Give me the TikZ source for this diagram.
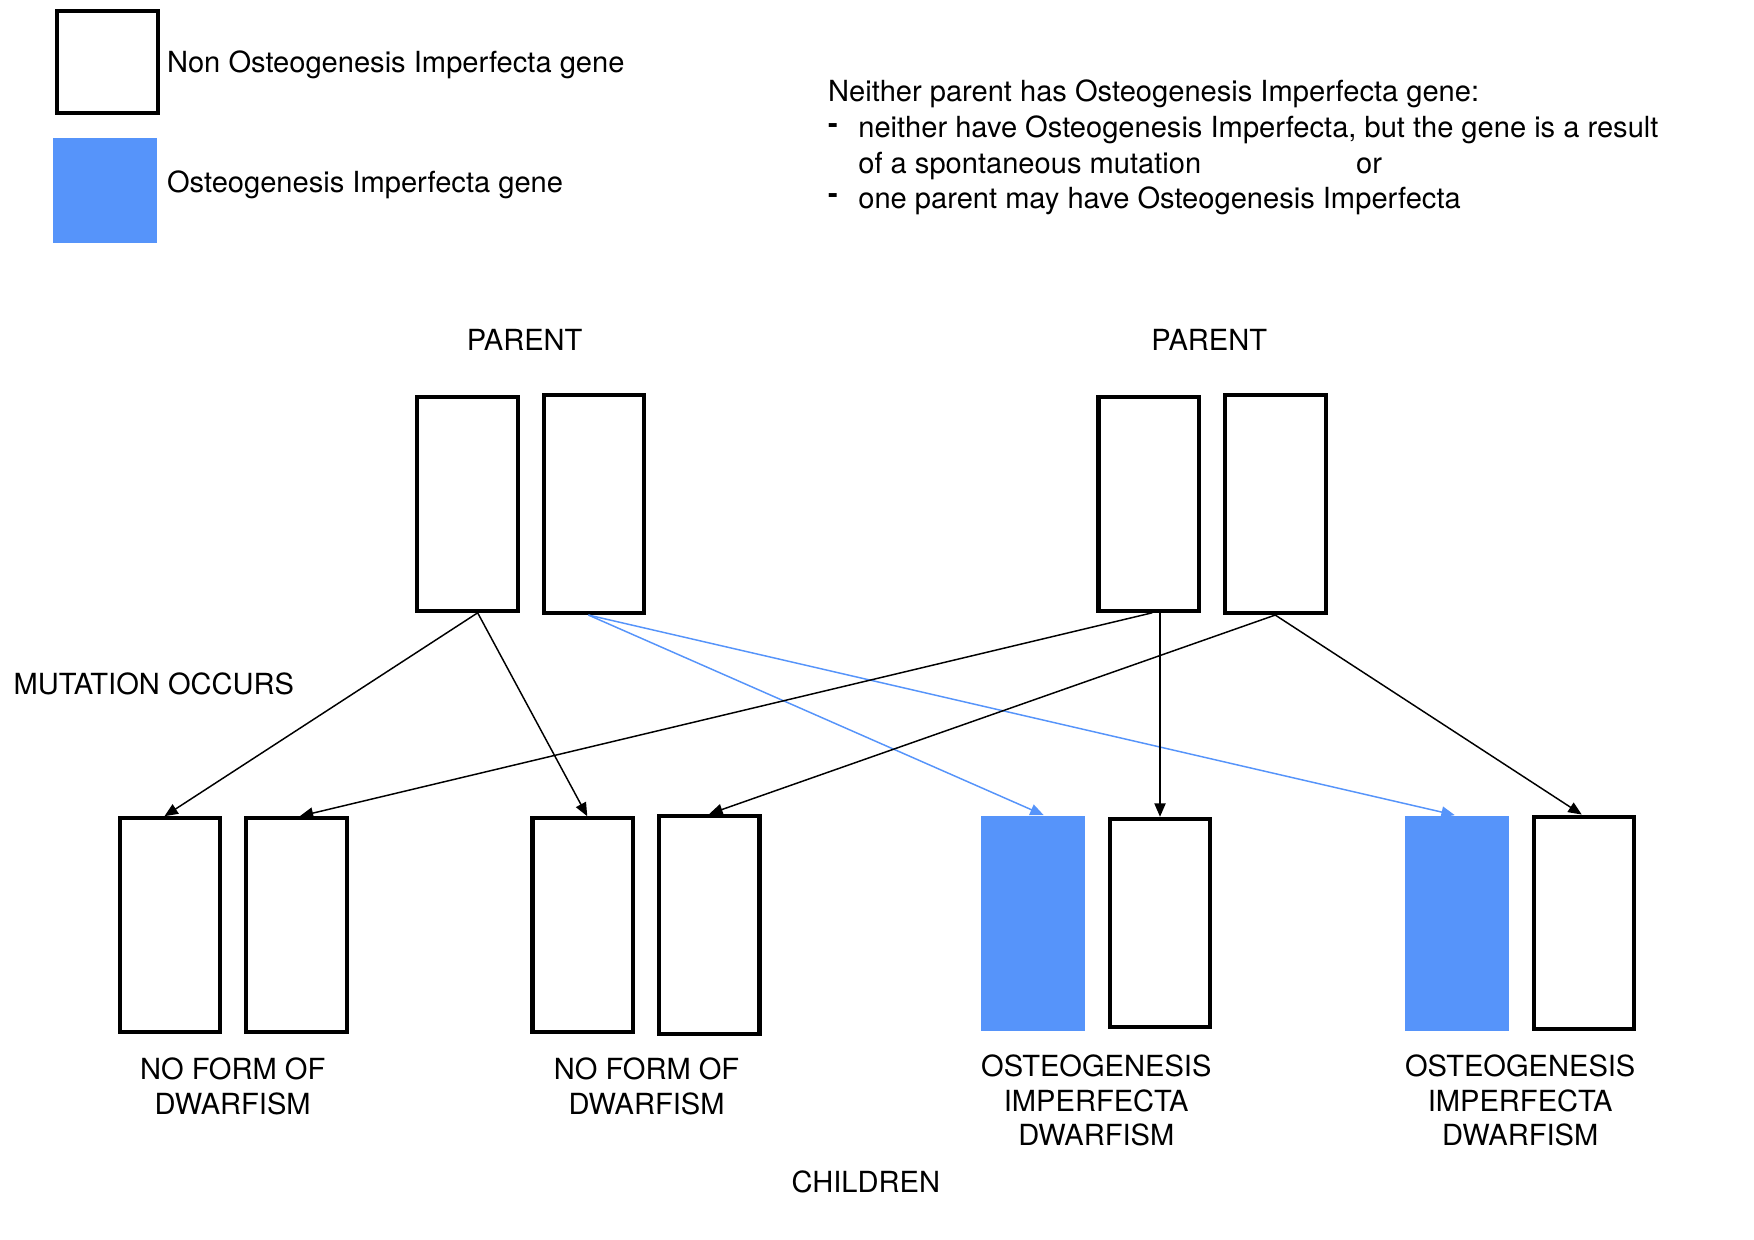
\documentclass[tikz,border=0pt]{standalone}
\usepackage{fontspec}
\setmainfont{TeX Gyre Heros}
\usepackage{tikz}
\usetikzlibrary{arrows.meta,calc}
\definecolor{geneblue}{RGB}{86,148,250}

\begin{document}
\begin{tikzpicture}[x=0.02cm,y=-0.02cm,
  font=\fontsize{14.8}{17.6}\selectfont,
  gene/.style={draw,line width=2.1pt,fill=white,inner sep=0pt,minimum width=1.80cm,minimum height=3.82cm},
  oigene/.style={fill=geneblue,inner sep=0pt,minimum width=1.86cm,minimum height=3.86cm},
  link/.style={-{Triangle[length=2.4mm,width=2mm]},line width=0.75pt},
  oilink/.style={link,draw=geneblue},
  notetext/.style={anchor=base west,inner sep=0pt},
  childtext/.style={align=center}]
\useasboundingbox (0,0) rectangle (1568,1108);

% Legend
\node[gene,minimum height=1.82cm] (keyplain) at (96,55.5) {};
\node[oigene,minimum height=1.88cm] (keyoi) at (93.5,170) {};
\node[notetext] (keyplaintext) at (149,65) {Non Osteogenesis Imperfecta gene};
\node[notetext] (keyoitext) at (149,172) {Osteogenesis Imperfecta gene};

% Note
\node[notetext] (note) at (740,91) {Neither parent has Osteogenesis Imperfecta gene:};
\node[notetext] (dasha) at (740,119) {\bfseries -};
\node[notetext] (notea) at (767,123) {neither have Osteogenesis Imperfecta, but the gene is a result};
\node[notetext] (noteb) at (767,155) {of a spontaneous mutation};
\node[notetext] (noteor) at (1212,155) {or};
\node[notetext] (dashb) at (740,182) {\bfseries -};
\node[notetext] (notec) at (767,186) {one parent may have Osteogenesis Imperfecta};

% Parents
\node (parentl) at (469,304) {PARENT};
\node (parentr) at (1081,304) {PARENT};
\node[gene] (p1a) at (418,450.5) {};
\node[gene,minimum height=3.90cm] (p1b) at (531,450.5) {};
\node[gene] (p2a) at (1027,450.5) {};
\node[gene,minimum height=3.90cm] (p2b) at (1140,450.5) {};

\node (mutation) at (137.5,611) {MUTATION OCCURS};

% Children
\node[gene] (c1a) at (152,827) {};
\node[gene] (c1b) at (265,827) {};
\node[gene] (c2a) at (521,827) {};
\node[gene,minimum height=3.90cm] (c2b) at (634,827) {};
\node[oigene] (c3a) at (923.5,825.5) {};
\node[gene,minimum height=3.72cm] (c3b) at (1037,825) {};
\node[oigene] (c4a) at (1302.5,825.5) {};
\node[gene,minimum height=3.80cm] (c4b) at (1416,825) {};

\node[childtext] (childa) at (208,971) {NO FORM OF\\DWARFISM};
\node[childtext] (childb) at (578,971) {NO FORM OF\\DWARFISM};
\node[childtext] (childc) at (980,984) {OSTEOGENESIS\\IMPERFECTA\\DWARFISM};
\node[childtext] (childd) at (1359,984) {OSTEOGENESIS\\IMPERFECTA\\DWARFISM};
\node (children) at (774,1057) {CHILDREN};

% Inheritance
\coordinate (p1aout) at ($(p1a.south)+(9,0)$);
\coordinate (p1bout) at ($(p1b.south)+(-5,0)$);
\draw[link] (p1aout) -- ($(c1a.north)+(-5,0)$);
\draw[link] (p1aout) -- ($(c2a.north)+(4,0)$);
\draw[oilink] (p1bout) -- ($(c3a.north)+(9.5,0)$);
\draw[oilink] (p1bout) -- ($(c4a.north)+(-2,0)$);
\draw[link] ($(p2a.south)+(3,0)$) -- ($(c1b.north)+(3,0)$);
\draw[link] (p2a.south -| c3b.north) -- (c3b.north);
\draw[link] (p2b.south) -- (c2b.north);
\draw[link] (p2b.south) -- ($(c4b.north)+(-2,0)$);
\end{tikzpicture}
\end{document}
